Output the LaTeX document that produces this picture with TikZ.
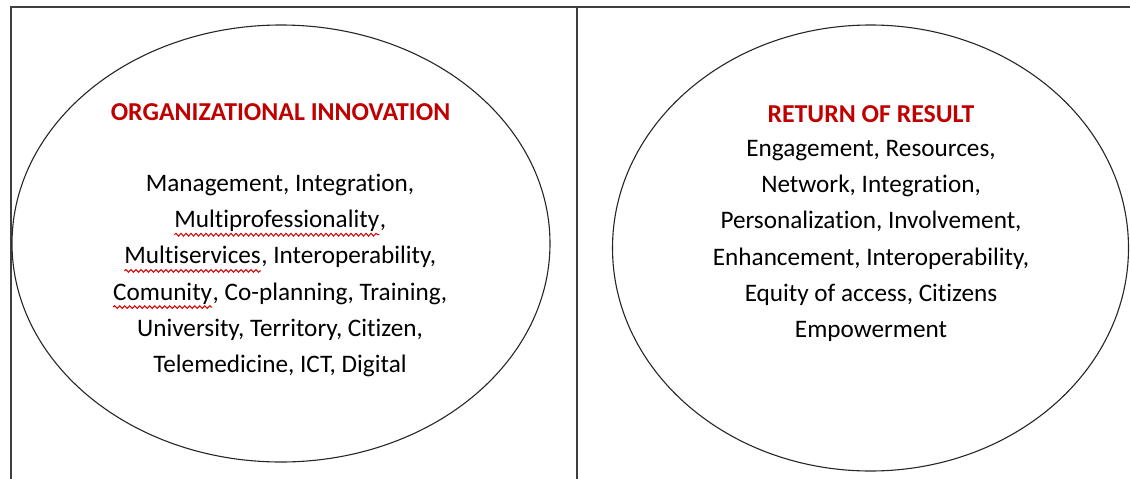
\documentclass[tikz,border=0pt]{standalone}
\usepackage{fontspec}
\setmainfont{Carlito}[Ligatures=NoCommon]
\usetikzlibrary{shapes.geometric,decorations.pathmorphing}
\definecolor{titlered}{HTML}{C00000}
\definecolor{framegray}{HTML}{404040}
\newcommand\wavyword[1]{\tikz[baseline=(ww.base)]{\node[inner sep=0pt,outer sep=0pt,draw=none] (ww) {#1};\draw[wavy] ([yshift=-7pt]ww.base west) -- ([yshift=-7pt]ww.base east);}}
\begin{document}
\begin{tikzpicture}[x=1pt,y=-1pt,
  frameline/.style={draw=framegray,line width=1.4pt},
  oval/.style={ellipse,draw=black!85,line width=1.1pt,inner sep=0pt},
  titletext/.style={font=\fontsize{25.8}{36.2}\selectfont\bfseries,text=titlered,inner sep=0pt,anchor=base},
  bodytext/.style={font=\fontsize{25.2}{36.2}\selectfont,align=center,inner sep=0pt,text=black},
  wavy/.style={draw=red!85!black,line width=1pt,decorate,decoration={snake,amplitude=1.4pt,segment length=5pt}}]
\useasboundingbox (0,0) rectangle (1130,479);
% frame
\coordinate (bl) at (11,480);
\coordinate (tl) at (11,7);
\coordinate (tr) at (1131,7);
\coordinate (mt) at (577,7);
\coordinate (mb) at (577,480);
\draw[frameline] (bl) -- (tl) -- (tr);
\draw[frameline] (mt) -- (mb);
% ellipses
\node[oval,minimum width=538pt,minimum height=437pt] (lov) at (281,243.5) {};
\node[oval,minimum width=516pt,minimum height=446pt] (rov) at (870.5,248) {};
% left texts
\node[titletext] (ltitle) at (280.5,120) {ORGANIZATIONAL INNOVATION};
\node[bodytext] (lbody) at (280,275.5) {Management, Integration,\\
\wavyword{Multiprofessionality},\\
\wavyword{Multiservices}, Interoperability,\\
\wavyword{Comunity}, Co-planning, Training,\\
University, Territory, Citizen,\\
Telemedicine, ICT, Digital};
% right texts
\node[titletext] (rtitle) at (871,122) {RETURN OF RESULT};
\node[bodytext] (rbody) at (871,241) {Engagement, Resources,\\
Network, Integration,\\
Personalization, Involvement,\\
Enhancement, Interoperability,\\
Equity of access, Citizens\\
Empowerment};
\end{tikzpicture}
\end{document}
